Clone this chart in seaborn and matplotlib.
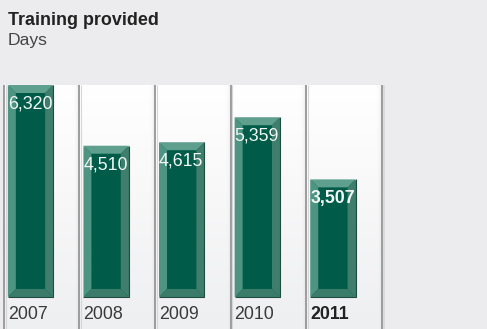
import numpy as np
import pandas as pd
import matplotlib
matplotlib.use("Agg")
import matplotlib.pyplot as plt
from matplotlib.patches import Polygon
from matplotlib.colors import LinearSegmentedColormap
import seaborn as sns

# Training provided (days) per year
years = ["2007", "2008", "2009", "2010", "2011"]
days = [6320, 4510, 4615, 5359, 3507]
value_labels = ["6,320", "4,510", "4,615", "5,359", "3,507"]
highlight = "2011"

title = "Training provided"
subtitle = "Days"

sns.set_theme(style="white")
plt.rcParams["font.family"] = ["Liberation Sans", "DejaVu Sans"]

W, H, DPI = 487, 329, 100
BG = "#ECECEE"
BAR = "#005C48"

fig = plt.figure(figsize=(W / DPI, H / DPI), dpi=DPI, facecolor=BG)
ax = fig.add_axes([0, 0, 1, 1])
ax.set_facecolor(BG)

df = pd.DataFrame({"year": years, "days": days})
sns.barplot(data=df, x="year", y="days", color=BAR, width=0.6,
            saturation=1, ax=ax, zorder=3)

# pixel geometry of the layout
unit = 75.6            # px per category slot
first_center = 30.5    # px from left edge
zero_px = 297          # baseline, px from top
top_px = 85            # top of tallest bar, px from top
k = (zero_px - top_px) / max(days)   # px per day

x_left = -first_center / unit
ymin = -(H - zero_px) / k
ymax = max(days)

# column panels behind the bars
grad = np.linspace(0, 1, 256).reshape(-1, 1)
panel_cmap = LinearSegmentedColormap.from_list("panel", ["#FFFFFF", "#F7F7F8", "#EEEFF1"])
shade = np.linspace(0, 1, 64).reshape(1, -1)
shade_cmap = LinearSegmentedColormap.from_list(
    "shade", [(1, 1, 1, 0), (0.86, 0.86, 0.87, 0.6)])
pad = 4 / unit
for i in range(len(years)):
    left = i - 0.3 - pad
    ax.imshow(grad, cmap=panel_cmap, extent=(left, left + 1, ymin, ymax),
              aspect="auto", origin="upper", zorder=0, interpolation="bicubic")
    # soft shadow on the right side of each panel
    ax.imshow(shade, cmap=shade_cmap, extent=(left + 1 - 6 / unit, left + 1, ymin, ymax),
              aspect="auto", zorder=0.5, interpolation="bicubic")
    ax.plot([left, left], [ymin, ymax], color="#9C9C9E", lw=1.4,
            solid_capstyle="butt", zorder=1)
    ax.plot([left + 1.8 / unit, left + 1.8 / unit], [ymin, ymax],
            color="#D6D6D8", lw=0.8, solid_capstyle="butt", zorder=1)
last_right = len(years) - 1 - 0.3 - pad + 1
ax.plot([last_right, last_right], [ymin, ymax], color="#9C9C9E", lw=1.4,
        solid_capstyle="butt", zorder=1)
ax.plot([last_right + 1.8 / unit] * 2, [ymin, ymax], color="#D8D8DA", lw=1.2,
        solid_capstyle="butt", zorder=1)

ax.set_xlim(x_left, x_left + W / unit)
ax.set_ylim(ymin, zero_px / k)
ax.axis("off")

# bevelled edges on each bar
bx = 8 / unit
by = 8 / k
for p in ax.patches:
    x0, y0 = p.get_x(), p.get_y()
    x1, y1 = x0 + p.get_width(), y0 + p.get_height()
    faces = [
        ([(x0, y1), (x1, y1), (x1 - bx, y1 - by), (x0 + bx, y1 - by)], "#5E9F8D"),
        ([(x0, y0), (x0, y1), (x0 + bx, y1 - by), (x0 + bx, y0 + by)], "#4E9482"),
        ([(x1, y0), (x1, y1), (x1 - bx, y1 - by), (x1 - bx, y0 + by)], "#3F7D6C"),
        ([(x0, y0), (x1, y0), (x1 - bx, y0 + by), (x0 + bx, y0 + by)], "#3A7B69"),
    ]
    for pts, col in faces:
        ax.add_patch(Polygon(pts, closed=True, facecolor=col, edgecolor="none", zorder=4))
    ax.plot([x1, x1, x0], [y1, y0, y0], color="#1E4D40", lw=0.8, zorder=5,
            solid_capstyle="butt")

# value and year labels
for p, yr, lab in zip(ax.patches[:len(years)], years, value_labels):
    x0 = p.get_x()
    weight = "bold" if yr == highlight else "normal"
    ax.annotate(lab, xy=(x0, p.get_height()), xytext=(0, -23.5),
                textcoords="offset pixels", ha="left", va="baseline",
                color="#F2F7F5", fontsize=12.8, fontweight=weight, zorder=6)
    ax.annotate(yr, xy=(x0, 0), xytext=(0, -22), textcoords="offset pixels",
                ha="left", va="baseline",
                color="#222222" if yr == highlight else "#3A3A3A",
                fontsize=12.8, fontweight=weight, zorder=6)

fig.text(8 / W, 1 - 25 / H, title, fontsize=12.9, fontweight="bold",
         color="#222222", ha="left", va="baseline")
fig.text(8 / W, 1 - 45 / H, subtitle, fontsize=12.6, color="#444444",
         ha="left", va="baseline")

fig.savefig("out.png", dpi=DPI, facecolor=BG)
